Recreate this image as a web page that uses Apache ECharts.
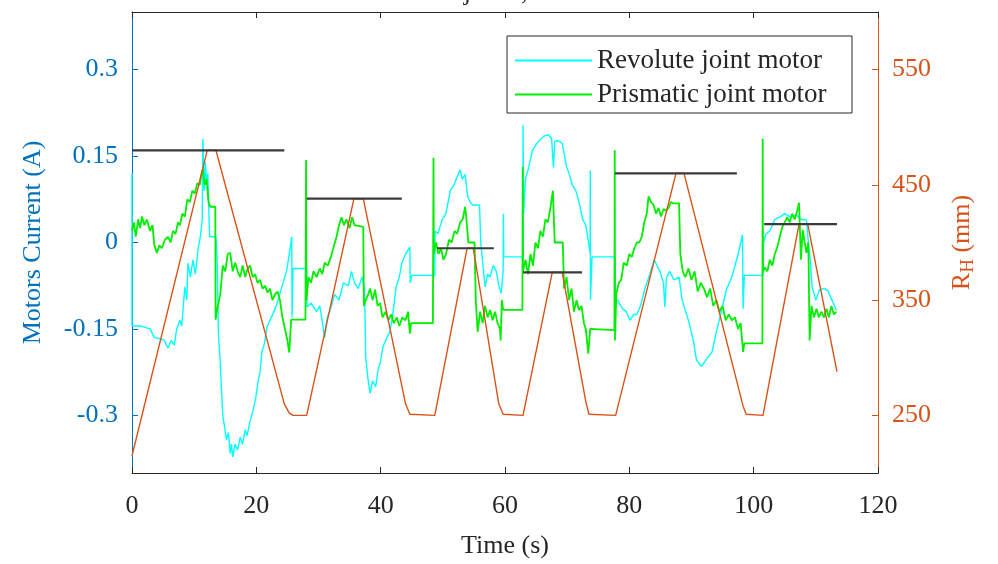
<!DOCTYPE html>
<html>
<head>
<meta charset="utf-8">
<script src="https://cdn.jsdelivr.net/npm/echarts@6/dist/echarts.min.js"></script>
<style>
html,body{margin:0;padding:0;background:#fff;}
#chart{width:998px;height:564px;}
</style>
</head>
<body>
<div id="chart"></div>
<script>
// ---- Data ----
const xTicks = [0, 20, 40, 60, 80, 100, 120];
const leftTicks = [-0.3, -0.15, 0, 0.15, 0.3];
const rightTicks = [250, 350, 450, 550];

// Revolute joint motor current (A)
const revTime = [0,0,1.5,2.9,3.6,4.5,5.2,5.8,6.3,6.8,7.2,7.7,8.0,8.5,8.8,9.0,9.4,9.8,10.2,10.6,11.0,11.3,11.4,11.6,11.8,12.0,12.2,12.4,12.5,13.5,13.7,13.9,14.2,14.6,14.9,15.2,15.5,15.8,16.0,16.2,16.6,17.0,17.4,17.8,18.2,18.5,19.0,19.5,19.9,20.3,20.6,20.9,21.3,21.7,22.2,22.7,23.2,23.8,24.3,24.9,25.3,25.7,25.75,25.9,28.1,
  28.15,28.8,29.7,30.2,31.0,31.4,31.8,32.6,33.3,34.0,34.8,35.3,35.8,36.4,37.0,37.4,37.6,38.0,38.3,38.7,39.2,39.6,39.9,40.4,41.0,41.5,42.0,42.5,43.0,43.4,44.0,44.7,44.75,45.0,48.7,
  48.75,49.2,49.9,50.5,51.2,51.8,52.3,52.8,53.1,53.6,54.0,54.4,54.8,55.9,56.1,56.5,56.8,57.2,57.6,58.1,58.6,59.0,59.4,59.7,59.75,59.8,62.9,
  62.9,63.0,63.3,63.8,64.4,65.0,65.6,66.3,67.0,67.5,67.8,68.0,68.5,69.2,69.6,69.9,70.3,70.8,71.4,71.9,72.5,73.0,73.3,73.7,73.72,73.75,74.0,77.7,
  77.75,78.1,78.9,79.5,80.1,80.7,81.2,81.8,82.5,83.3,84.0,84.9,85.5,85.7,86.0,86.5,87.2,88.0,88.5,89.5,90.3,90.8,91.6,92.3,93.3,94.0,94.8,95.6,96.5,97.5,98.2,98.3,98.5,101.5,
  101.6,102.0,102.6,103.4,104.3,105.0,105.8,106.9,107.7,108.5,108.8,109.1,109.4,110.0,110.6,111.3,111.9,112.6,113.3];
const revCurrent = [0.12,-0.145,-0.145,-0.15,-0.165,-0.167,-0.17,-0.183,-0.17,-0.178,-0.15,-0.135,-0.145,-0.077,-0.1,-0.036,-0.06,-0.03,-0.055,-0.013,0.01,0.039,0.18,0.09,0.14,0.10,0.12,0.04,0.01,0.01,-0.03,-0.158,-0.21,-0.3,-0.32,-0.343,-0.33,-0.366,-0.35,-0.372,-0.35,-0.36,-0.338,-0.35,-0.325,-0.335,-0.31,-0.29,-0.27,-0.24,-0.225,-0.19,-0.175,-0.147,-0.135,-0.123,-0.11,-0.088,-0.07,-0.048,-0.02,0.01,-0.13,-0.045,-0.045,
  -0.112,-0.105,-0.12,-0.11,-0.165,-0.13,-0.12,-0.09,-0.1,-0.07,-0.075,-0.05,-0.07,-0.08,-0.06,-0.08,-0.2,-0.24,-0.262,-0.24,-0.25,-0.22,-0.21,-0.18,-0.165,-0.155,-0.12,-0.077,-0.06,-0.036,-0.02,-0.008,-0.07,-0.057,-0.057,
  0.02,0.015,0.04,0.05,0.09,0.1,0.114,0.126,0.11,0.118,0.08,0.07,0.065,0.065,0.0,-0.045,-0.077,-0.055,-0.06,-0.04,-0.05,-0.075,-0.088,-0.05,0.05,-0.025,-0.025,
  0.204,0.05,0.11,0.13,0.16,0.17,0.178,0.185,0.187,0.18,0.13,0.175,0.177,0.172,0.15,0.131,0.12,0.1,0.09,0.07,0.04,0.03,0.01,-0.02,0.125,-0.1,-0.025,-0.025,
  -0.1,-0.1,-0.115,-0.12,-0.135,-0.125,-0.125,-0.11,-0.08,-0.055,-0.03,-0.05,-0.07,-0.112,-0.06,-0.05,-0.065,-0.06,-0.1,-0.135,-0.17,-0.204,-0.215,-0.204,-0.19,-0.155,-0.12,-0.082,-0.06,-0.02,0.013,-0.115,-0.057,-0.057,
  0.0,0.015,0.02,0.04,0.045,0.05,0.045,0.047,0.04,0.039,0.0,-0.03,-0.077,-0.1,-0.082,-0.08,-0.083,-0.1,-0.117];

// Prismatic joint motor current (A)
const priTime = [0,0.3,0.6,1.0,1.3,1.6,2.0,2.4,2.9,3.3,3.6,4.0,4.4,4.8,5.3,5.8,6.2,6.6,7.0,7.4,7.7,8.1,8.5,8.9,9.3,9.7,10.1,10.5,10.9,11.2,11.4,11.7,12.0,12.3,12.6,13.4,13.45,13.8,14.2,14.6,15.0,15.4,15.8,16.2,16.6,17.0,17.4,17.8,18.2,18.6,19.0,19.4,19.8,20.2,20.6,21.0,21.4,21.8,22.2,22.6,23.0,23.4,23.8,24.2,24.6,25.0,25.3,25.6,27.9,
  28.0,28.05,28.4,28.8,29.2,29.7,30.2,30.6,31.0,31.5,32.0,32.5,32.9,33.3,33.7,34.1,34.5,35.0,35.4,35.8,36.1,37.2,37.3,37.6,38.0,38.3,38.7,39.1,39.5,39.9,40.3,40.8,41.2,41.7,42.1,42.6,43.0,43.5,44.0,44.4,44.7,44.9,48.4,
  48.5,48.55,48.9,49.3,49.7,50.1,50.5,51.0,51.4,51.9,52.3,52.8,53.2,53.6,53.8,54.1,55.1,55.3,55.6,56.0,56.4,56.8,57.2,57.6,58.0,58.4,58.8,59.2,59.3,59.5,59.7,62.8,
  62.85,62.9,63.3,63.7,64.1,64.5,64.9,65.3,65.7,66.1,66.5,66.9,67.3,67.7,67.9,68.0,69.3,69.5,69.9,70.3,70.7,71.1,71.5,71.9,72.3,72.7,73.0,73.4,73.7,74.0,77.6,
  77.65,77.7,77.9,78.3,78.7,79.1,79.6,80.0,80.4,80.8,81.2,81.6,82.0,82.4,82.8,83.1,83.5,83.9,84.3,84.7,85.1,85.5,85.9,86.3,86.7,87.1,88.0,88.2,88.6,89.0,89.5,90.0,90.5,91.0,91.5,92.0,92.5,93.0,93.5,94.0,94.5,95.0,95.5,96.0,96.5,97.0,97.5,97.9,98.3,98.5,101.4,
  101.45,101.5,101.8,102.2,102.6,103.0,103.4,103.8,104.2,104.6,105.0,105.4,105.8,106.2,106.6,107.0,107.3,107.6,107.9,108.2,108.5,108.8,109.0,109.3,109.7,110.1,110.5,110.9,111.3,111.7,112.1,112.5,112.9,113.3];
const priCurrent = [0.02,0.035,0.01,0.04,0.025,0.045,0.03,0.04,0.02,0.03,-0.005,-0.018,-0.005,-0.01,0.005,0.01,0.0,0.02,0.015,0.035,0.03,0.05,0.045,0.075,0.07,0.09,0.085,0.103,0.1,0.12,0.126,0.1,0.11,0.07,0.062,0.062,-0.134,-0.11,-0.09,-0.04,-0.05,-0.02,-0.018,-0.05,-0.035,-0.05,-0.06,-0.04,-0.06,-0.045,-0.04,-0.06,-0.055,-0.07,-0.065,-0.08,-0.075,-0.087,-0.08,-0.1,-0.09,-0.085,-0.1,-0.13,-0.15,-0.17,-0.191,-0.134,-0.134,
  0.143,-0.1,-0.06,-0.07,-0.05,-0.06,-0.045,-0.055,-0.035,-0.04,-0.025,-0.005,0.01,0.03,0.044,0.03,0.04,0.025,0.044,0.03,0.027,0.027,-0.11,-0.1,-0.09,-0.08,-0.1,-0.082,-0.11,-0.105,-0.13,-0.12,-0.135,-0.125,-0.14,-0.13,-0.145,-0.13,-0.135,-0.12,-0.158,-0.14,-0.14,
  0.147,-0.02,0.0,-0.02,-0.01,-0.03,-0.02,0.005,0.0,0.02,0.015,0.035,0.04,0.062,0.04,0.0,0.0,-0.1,-0.155,-0.12,-0.14,-0.11,-0.13,-0.117,-0.135,-0.12,-0.14,-0.15,-0.17,-0.1,-0.117,-0.117,
  0.131,-0.05,-0.03,-0.055,-0.02,-0.04,0.0,-0.01,0.02,0.01,0.04,0.035,0.06,0.09,0.03,0.0,0.0,-0.08,-0.06,-0.1,-0.08,-0.12,-0.1,-0.117,-0.11,-0.14,-0.15,-0.193,-0.15,-0.152,-0.152,
  0.16,-0.17,-0.09,-0.07,-0.065,-0.035,-0.04,-0.02,-0.025,-0.01,0.0,0.0,0.01,0.035,0.05,0.08,0.07,0.065,0.05,0.06,0.045,0.058,0.055,0.06,0.07,0.068,0.068,-0.02,-0.05,-0.06,-0.045,-0.065,-0.05,-0.085,-0.07,-0.08,-0.095,-0.08,-0.11,-0.1,-0.12,-0.11,-0.135,-0.125,-0.135,-0.13,-0.15,-0.14,-0.19,-0.175,-0.175,
  0.18,-0.05,-0.043,-0.05,-0.03,-0.04,-0.02,-0.008,0.01,0.027,0.035,0.044,0.035,0.05,0.04,0.055,0.069,-0.03,0.022,0.0,-0.018,0.0,-0.17,-0.11,-0.13,-0.115,-0.13,-0.12,-0.13,-0.115,-0.13,-0.11,-0.125,-0.12];

// Hand position R_H (mm)
const rhTime = [0,12.1,13.5,24.5,25.3,25.9,28.1,35.7,37.2,44.0,44.7,48.7,53.9,54.9,59.0,59.7,62.9,67.6,69.2,73.0,73.5,77.8,87.5,88.8,98.3,98.8,101.5,107.3,108.7,113.4];
const rhValue = [215,480,480,260,252,250,250,438,438,260,251,250,395,395,260,251,250,374,374,262,251,250,460,460,258,251,250,416,416,288];

// Reference (target) levels: start time, end time, R_H (mm)
const refStart = [0, 28.1, 49.1, 62.9, 77.7, 101.7];
const refEnd   = [24.5, 43.4, 58.2, 72.4, 97.3, 113.4];
const refLevel = [480, 438, 395, 374, 460, 416];

// ---- Chart ----
const FONT = 'Liberation Serif';
const BLUE = '#0072BD', ORANGE = '#D95319', DARK = '#262626';
const zip = (a, b) => a.map((v, i) => [v, b[i]]);

const series = [
  { name: 'Revolute joint motor', type: 'line', xAxisIndex: 0, yAxisIndex: 0,
    data: zip(revTime, revCurrent), showSymbol: false, symbol: 'none',
    lineStyle: { color: '#00FFFF', width: 1.4 }, itemStyle: { color: '#00FFFF' }, z: 2 },
  { name: 'Prismatic joint motor', type: 'line', xAxisIndex: 0, yAxisIndex: 0,
    data: zip(priTime, priCurrent), showSymbol: false, symbol: 'none',
    lineStyle: { color: '#00EE00', width: 1.8 }, itemStyle: { color: '#00EE00' }, z: 3 },
  { name: 'RH', type: 'line', xAxisIndex: 0, yAxisIndex: 1,
    data: zip(rhTime, rhValue), showSymbol: false, symbol: 'none',
    lineStyle: { color: ORANGE, width: 1.4 }, z: 4 }
];
refStart.forEach((s, i) => {
  series.push({ name: 'ref' + i, type: 'line', xAxisIndex: 0, yAxisIndex: 1,
    data: [[s, refLevel[i]], [refEnd[i], refLevel[i]]], showSymbol: false, symbol: 'none',
    lineStyle: { color: '#3a3a3a', width: 2.2 }, z: 5 });
});

const chart = echarts.init(document.getElementById('chart'), null, { renderer: 'canvas' });
chart.setOption({
  animation: false,
  backgroundColor: '#fff',
  textStyle: { fontFamily: FONT },
  grid: { left: 132, right: 120, top: 12, bottom: 91 },
  graphic: [{ type: 'text', x: 505, y: -7,
    style: { text: 'Subject 1, Set 1', font: '26px "Liberation Serif"', fill: DARK, align: 'center', verticalAlign: 'middle' } }],
  legend: {
    data: ['Revolute joint motor', 'Prismatic joint motor'],
    orient: 'vertical', left: 507, top: 36,
    icon: 'rect',
    backgroundColor: '#fff', borderColor: DARK, borderWidth: 1,
    padding: [11, 10, 5, 8], itemGap: 7, itemWidth: 77, itemHeight: 2,
    textStyle: { fontFamily: FONT, fontSize: 27, color: DARK, lineHeight: 26, width: 245 }
  },
  xAxis: [
    { type: 'value', min: 0, max: 120, interval: 20, position: 'bottom',
      name: 'Time (s)', nameLocation: 'middle', nameGap: 60,
      nameTextStyle: { fontFamily: FONT, fontSize: 26, color: DARK },
      axisLine: { onZero: false, lineStyle: { color: DARK, width: 1 } },
      axisTick: { inside: true, length: 6, lineStyle: { color: DARK } },
      axisLabel: { fontFamily: FONT, fontSize: 26, color: DARK, margin: 20 },
      splitLine: { show: false } },
    { type: 'value', min: 0, max: 120, interval: 20, position: 'top',
      axisLine: { onZero: false, lineStyle: { color: DARK, width: 1 } },
      axisTick: { inside: true, length: 6, lineStyle: { color: DARK } },
      axisLabel: { show: false }, splitLine: { show: false } }
  ],
  yAxis: [
    { type: 'value', min: -0.4, max: 0.4, position: 'left',
      name: 'Motors Current (A)', nameLocation: 'middle', nameGap: 86,
      nameTextStyle: { fontFamily: FONT, fontSize: 26, color: BLUE },
      axisLine: { show: true, onZero: false, lineStyle: { color: BLUE, width: 1 } },
      axisTick: { show: true, inside: true, length: 6, customValues: leftTicks, lineStyle: { color: BLUE } },
      axisLabel: { customValues: leftTicks, fontFamily: FONT, fontSize: 26, color: BLUE, margin: 14,
        formatter: v => String(Math.round(v * 100) / 100) },
      splitLine: { show: false } },
    { type: 'value', min: 200, max: 600, position: 'right',
      name: '{r|R}{s|H}{r| (mm)}', nameLocation: 'middle', nameGap: 68,
      nameTextStyle: { fontFamily: FONT, fontSize: 26, color: ORANGE,
        rich: { r: { fontFamily: FONT, fontSize: 26, color: ORANGE },
                s: { fontFamily: FONT, fontSize: 19, color: ORANGE, verticalAlign: 'top', padding: [13, 0, 0, 0] } } },
      axisLine: { show: true, onZero: false, lineStyle: { color: ORANGE, width: 1 } },
      axisTick: { show: true, inside: true, length: 6, customValues: rightTicks, lineStyle: { color: ORANGE } },
      axisLabel: { customValues: rightTicks, fontFamily: FONT, fontSize: 26, color: ORANGE, margin: 14 },
      splitLine: { show: false } }
  ],
  series: series
});
</script>
</body>
</html>
